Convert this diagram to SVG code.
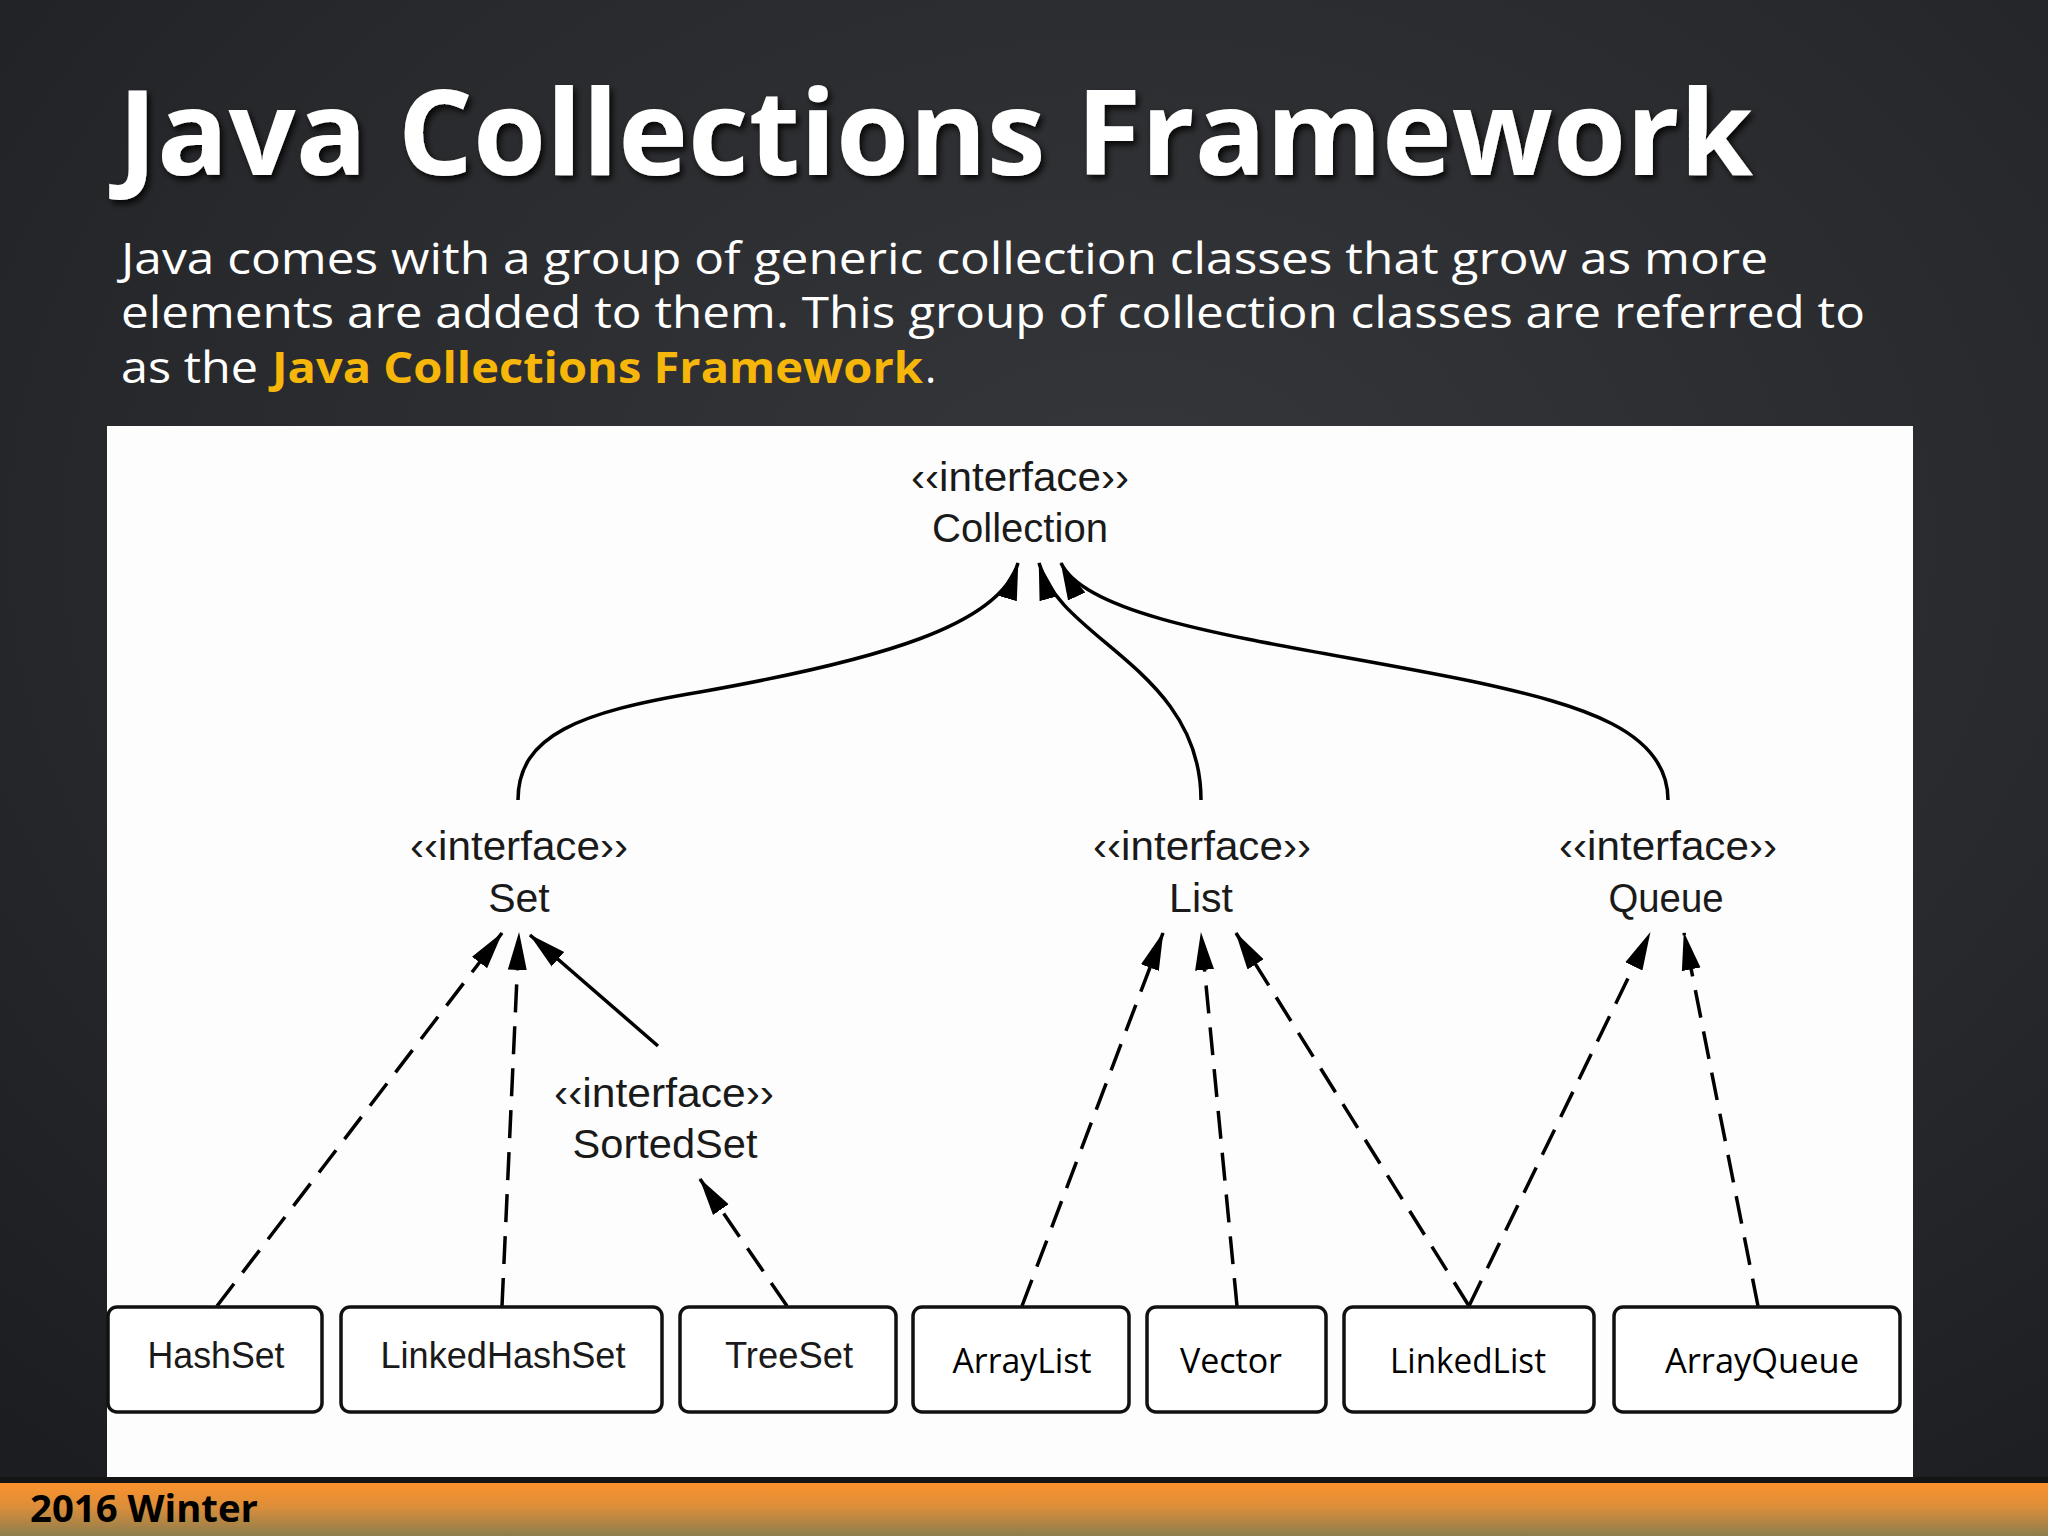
<svg xmlns="http://www.w3.org/2000/svg" width="2048" height="1536" viewBox="0 0 2048 1536">
  <defs>
    <radialGradient id="bg" cx="0.55" cy="0.35" r="0.8">
      <stop offset="0" stop-color="#36373a"/>
      <stop offset="0.6" stop-color="#28292c"/>
      <stop offset="1" stop-color="#1c1d20"/>
    </radialGradient>
    <linearGradient id="foot" x1="0" y1="0" x2="0" y2="1">
      <stop offset="0" stop-color="#fa922c"/>
      <stop offset="0.45" stop-color="#dc8e3a"/>
      <stop offset="1" stop-color="#8c7d4e"/>
    </linearGradient>
    <filter id="shadow" x="-5%" y="-20%" width="110%" height="140%">
      <feDropShadow dx="3" dy="4" stdDeviation="3" flood-color="#000" flood-opacity="0.85"/>
    </filter>
    <marker id="ah" markerUnits="userSpaceOnUse" markerWidth="38" markerHeight="22" viewBox="0 0 38 22" refX="37" refY="11" orient="auto">
      <path d="M0,1.5 L38,11 L0,20.5 Z" fill="#000"/>
    </marker>
    <style>
      .title{font-family:"Open Sans","Liberation Sans",sans-serif;font-weight:700;fill:#fff}
      .sub{font-family:"Open Sans","Liberation Sans",sans-serif;font-size:43px;fill:#fff}
      .gold{font-family:"Open Sans","Liberation Sans",sans-serif;font-size:43px;font-weight:700;fill:#f6b60a}
      .lbl{font-family:"Liberation Sans",Arial,sans-serif;font-size:41px;fill:#1a1a1a;text-anchor:middle}
      .box{fill:#fff;stroke:#111;stroke-width:3.5}
      .bt{font-family:"Liberation Sans",Arial,sans-serif;font-size:36px;fill:#1a1a1a;text-anchor:middle}
      .bt2{font-family:"Open Sans","Liberation Sans",sans-serif;font-size:35px;fill:#000;text-anchor:middle}
      .solid{fill:none;stroke:#000;stroke-width:3.5;marker-end:url(#ah)}
      .dash{fill:none;stroke:#000;stroke-width:3.5;stroke-dasharray:28 14;marker-end:url(#ah)}
      .foot{font-family:"Open Sans","Liberation Sans",sans-serif;font-weight:700;font-size:38px;fill:#000}
    </style>
  </defs>

  <!-- background -->
  <rect x="0" y="0" width="2048" height="1536" fill="url(#bg)"/>

  <!-- heading -->
  <text class="title" x="118" y="175" font-size="118" textLength="1635" lengthAdjust="spacingAndGlyphs" filter="url(#shadow)">Java Collections Framework</text>
  <text class="sub" x="121" y="274" textLength="1647" lengthAdjust="spacingAndGlyphs">Java comes with a group of generic collection classes that grow as more</text>
  <text class="sub" x="121" y="328" textLength="1744" lengthAdjust="spacingAndGlyphs">elements are added to them. This group of collection classes are referred to</text>
  <text class="sub" x="121" y="383" textLength="137" lengthAdjust="spacingAndGlyphs">as the</text>
  <text class="gold" x="272" y="383" textLength="651" lengthAdjust="spacingAndGlyphs">Java Collections Framework</text>
  <text class="sub" x="925" y="383">.</text>

  <!-- diagram panel -->
  <rect x="107" y="426" width="1806" height="1052" fill="#fdfdfd"/>

  <!-- connectors -->
  <g id="connectors">
    <path id="c-set-collection" class="solid" d="M518,800 C518,735 580,712 700,692 C880,660 1000,625 1018,563"/>
    <path id="c-list-collection" class="solid" d="M1201,800 C1201,670 1060,640 1039,563"/>
    <path id="c-queue-collection" class="solid" d="M1668,800 C1668,730 1580,705 1480,683 C1300,645 1090,625 1061,563"/>
    <path id="c-hashset-set" class="dash" d="M217,1306 L502,933"/>
    <path id="c-linkedhashset-set" class="dash" d="M502,1306 L519,933"/>
    <path id="c-sortedset-set" class="solid" d="M658,1046 L530,935"/>
    <path id="c-treeset-sortedset" class="dash" d="M787,1306 L700,1179"/>
    <path id="c-arraylist-list" class="dash" d="M1022,1306 L1163,933"/>
    <path id="c-vector-list" class="dash" d="M1237,1306 L1201,933"/>
    <path id="c-linkedlist-list" class="dash" d="M1469,1306 L1236,933"/>
    <path id="c-linkedlist-queue" class="dash" d="M1469,1306 L1650,933"/>
    <path id="c-arrayqueue-queue" class="dash" d="M1758,1306 L1684,933"/>
  </g>

  <!-- interface nodes -->
  <g id="collection">
    <text class="lbl" x="1020" y="491" textLength="218" lengthAdjust="spacingAndGlyphs">‹‹interface››</text>
    <text class="lbl" x="1020" y="542" textLength="176" lengthAdjust="spacingAndGlyphs">Collection</text>
  </g>
  <g id="set">
    <text class="lbl" x="519" y="860" textLength="218" lengthAdjust="spacingAndGlyphs">‹‹interface››</text>
    <text class="lbl" x="519" y="912">Set</text>
  </g>
  <g id="list">
    <text class="lbl" x="1202" y="860" textLength="218" lengthAdjust="spacingAndGlyphs">‹‹interface››</text>
    <text class="lbl" x="1201" y="912">List</text>
  </g>
  <g id="queue">
    <text class="lbl" x="1668" y="860" textLength="218" lengthAdjust="spacingAndGlyphs">‹‹interface››</text>
    <text class="lbl" x="1666" y="912" textLength="115" lengthAdjust="spacingAndGlyphs">Queue</text>
  </g>
  <g id="sortedset">
    <text class="lbl" x="664" y="1107" textLength="220" lengthAdjust="spacingAndGlyphs">‹‹interface››</text>
    <text class="lbl" x="665" y="1158" textLength="185" lengthAdjust="spacingAndGlyphs">SortedSet</text>
  </g>

  <!-- class nodes -->
  <g id="hashset">
    <rect class="box" x="108" y="1307" width="214" height="105" rx="9"/>
    <text class="bt" x="216" y="1368" textLength="137" lengthAdjust="spacingAndGlyphs">HashSet</text>
  </g>
  <g id="linkedhashset">
    <rect class="box" x="341" y="1307" width="321" height="105" rx="9"/>
    <text class="bt" x="503" y="1368" textLength="245" lengthAdjust="spacingAndGlyphs">LinkedHashSet</text>
  </g>
  <g id="treeset">
    <rect class="box" x="680" y="1307" width="216" height="105" rx="9"/>
    <text class="bt" x="789" y="1368" textLength="128" lengthAdjust="spacingAndGlyphs">TreeSet</text>
  </g>
  <g id="arraylist">
    <rect class="box" x="913" y="1307" width="216" height="105" rx="9"/>
    <text class="bt2" x="1022" y="1373" textLength="139" lengthAdjust="spacingAndGlyphs">ArrayList</text>
  </g>
  <g id="vector">
    <rect class="box" x="1147" y="1307" width="179" height="105" rx="9"/>
    <text class="bt2" x="1231" y="1373" textLength="102" lengthAdjust="spacingAndGlyphs">Vector</text>
  </g>
  <g id="linkedlist">
    <rect class="box" x="1344" y="1307" width="250" height="105" rx="9"/>
    <text class="bt2" x="1468" y="1373" textLength="156" lengthAdjust="spacingAndGlyphs">LinkedList</text>
  </g>
  <g id="arrayqueue">
    <rect class="box" x="1614" y="1307" width="286" height="105" rx="9"/>
    <text class="bt2" x="1762" y="1373" textLength="194" lengthAdjust="spacingAndGlyphs">ArrayQueue</text>
  </g>

  <!-- footer -->
  <rect x="0" y="1477" width="2048" height="6" fill="#141414"/>
  <rect x="0" y="1483" width="2048" height="53" fill="url(#foot)"/>
  <text class="foot" x="30" y="1522" textLength="228" lengthAdjust="spacingAndGlyphs">2016 Winter</text>
</svg>
